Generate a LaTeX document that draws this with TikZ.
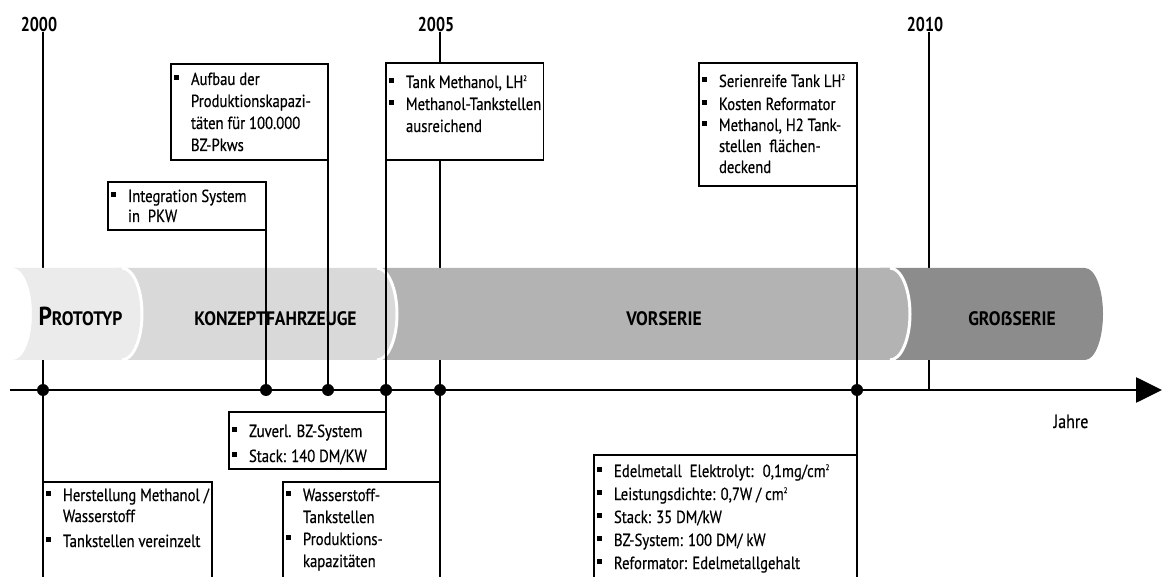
\documentclass[tikz,border=0pt]{standalone}
\usepackage{fontspec}
\setmainfont{PT Sans}[FakeStretch=0.84, FakeBold=0.5]
\newfontfamily\yearfont{PT Sans}[FakeStretch=0.8]
\newfontfamily\bandfont{PT Sans}[FakeStretch=0.9]
\usetikzlibrary{arrows.meta}

\pgfdeclarelayer{yearlayer}
\pgfdeclarelayer{bandlayer}
\pgfsetlayers{yearlayer,bandlayer,main}

\definecolor{protogray}{HTML}{EBEBEB}
\definecolor{konzgray}{HTML}{D9D9D9}
\definecolor{vorgray}{HTML}{B3B3B3}
\definecolor{grossgray}{HTML}{8C8C8C}

% bullet square and indentation of continuation lines
\newcommand\bul{\makebox[17.5pt][l]{\raisebox{5pt}{\rule{5pt}{5pt}}}}
\newcommand\ind{\hspace*{17.5pt}}
\newcommand\lstrut{\rule[-4pt]{0pt}{17pt}}
\newcommand\bl[1]{\hbox{\lstrut\bul#1}}
\newcommand\cl[1]{\hbox{\lstrut\ind#1}}
\newcommand\sqr{\raisebox{7pt}{\fontsize{8}{8}\selectfont 2}}
% #1 width, #2 height, #3 first baseline, #4 line skip, #5 lines
\newcommand\boxtxt[5]{\parbox[t][#2pt][t]{#1pt}{\fontsize{17.5}{#4pt}\selectfont
  \hrule height 0pt width #1pt\relax
  \vspace*{\dimexpr#3pt-13pt\relax}#5}}

\tikzset{
  infobox/.style={draw, line width=1.3pt, fill=white, inner xsep=2.5pt, inner ysep=0pt, outer sep=0pt, anchor=north west},
  yearlbl/.style={font=\yearfont\fontsize{20}{20}\selectfont\bfseries, anchor=base, inner sep=0pt},
  bandlbl/.style={font=\bandfont\fontsize{19.5}{20}\selectfont\bfseries, anchor=base, inner sep=0pt},
  yearline/.style={line width=2pt},
  msline/.style={line width=1.3pt},
  axisline/.style={line width=2.7pt, -{Triangle[length=26pt,width=25pt]}},
  dot/.style={circle, fill=black, minimum size=12pt, inner sep=0pt},
  bandedge/.style={white, line width=3pt},
}

\begin{document}
\begin{tikzpicture}[x=1pt,y=-1pt]
\useasboundingbox (0,0) rectangle (1165,577);
\clip (0,0) rectangle (1165,577);

% year labels
\node[yearlbl] (y2000) at (39,32) {2000};
\node[yearlbl] (y2005) at (436,32) {2005};
\node[yearlbl] (y2010) at (925,32) {2010};

% milestone dots on the time axis
\node[dot] (d2000) at (43,390) {};
\node[dot] (d266) at (266,390) {};
\node[dot] (d328) at (328,390) {};
\node[dot] (d387) at (386,390) {};
\node[dot] (d2005) at (440,390) {};
\node[dot] (d857) at (857,390) {};
\coordinate (t2010) at (929,390);
\coordinate (axL) at (10,390);
\coordinate (axR) at (1162,390);

% boxes above the axis
\node[infobox] (bA) at (171,64) {\boxtxt{152}{96}{21}{22}{%
  \bl{Aufbau der}
  \cl{Produktionskapazi-}
  \cl{täten für 100.000}
  \cl{BZ-Pkws}}};
\node[infobox] (bB) at (108,182) {\boxtxt{153}{48}{20}{20}{%
  \bl{Integration System}
  \cl{in~ PKW}}};
\node[infobox] (bC) at (386,63) {\boxtxt{152}{97}{25}{22}{%
  \bl{Tank Methanol, LH\sqr}
  \bl{Methanol-Tankstellen}
  \cl{ausreichend}}};
\node[infobox] (bD) at (699,63) {\boxtxt{153}{123}{24}{21}{%
  \bl{Serienreife Tank LH\sqr}
  \vspace{2pt}
  \bl{Kosten Reformator}
  \bl{Methanol, H2 Tank-}
  \cl{stellen~ flächen-}
  \cl{deckend}}};

% boxes below the axis
\node[infobox] (bE) at (229,412) {\boxtxt{152}{57}{25}{25}{%
  \bl{Zuverl. BZ-System}
  \bl{Stack: 140 DM/KW}}};
\node[infobox] (bF) at (43,482) {\boxtxt{164}{150}{19}{21}{%
  \bl{Herstellung Methanol /}
  \cl{Wasserstoff}
  \vspace{4pt}
  \bl{Tankstellen vereinzelt}}};
\node[infobox] (bG) at (283,482) {\boxtxt{152}{150}{19}{22}{%
  \bl{Wasserstoff-}
  \cl{Tankstellen}
  \bl{Produktions-}
  \cl{kapazitäten}}};
\node[infobox] (bH) at (594,455) {\boxtxt{258}{150}{22}{23}{%
  \bl{Edelmetall~ Elektrolyt:~ 0,1mg/cm\sqr}
  \bl{Leistungsdichte: 0,7W / cm\sqr}
  \bl{Stack: 35 DM/kW}
  \bl{BZ-System: 100 DM/ kW}
  \bl{Reformator: Edelmetallgehalt}}};

% year lines behind the phase bands
\begin{pgfonlayer}{yearlayer}
  \draw[yearline] (d2000 |- y2000.south) -- (bF.north west);
  \draw[yearline] (d2005 |- y2005.south) -- (bG.north east);
  \draw[yearline] (t2010 |- y2010.south) -- (t2010);
\end{pgfonlayer}

% phase bands and the time axis
\begin{pgfonlayer}{bandlayer}
  \fill[grossgray] (880,268) -- (1085,268) .. controls (1094.9,268) and (1103,288.6) .. (1103,314)
     .. controls (1103,339.4) and (1094.9,360) .. (1085,360) -- (880,360) -- cycle;
  \fill[vorgray] (380,268) -- (890,268) .. controls (901,268) and (910,288.6) .. (910,314)
     .. controls (910,339.4) and (901,360) .. (890,360) -- (380,360) -- cycle;
  \draw[bandedge] (890,268) .. controls (901,268) and (910,288.6) .. (910,314)
     .. controls (910,339.4) and (901,360) .. (890,360);
  \fill[konzgray] (115,268) -- (377,268) .. controls (388,268) and (397,288.6) .. (397,314)
     .. controls (397,339.4) and (388,360) .. (377,360) -- (115,360) -- cycle;
  \draw[bandedge] (377,268) .. controls (388,268) and (397,288.6) .. (397,314)
     .. controls (397,339.4) and (388,360) .. (377,360);
  \fill[protogray] (13,268) -- (122,268) .. controls (133,268) and (142,288.6) .. (142,314)
     .. controls (142,339.4) and (133,360) .. (122,360) -- (13,360)
     .. controls (23.5,360) and (32,339.4) .. (32,314) .. controls (32,288.6) and (23.5,268) .. (13,268) -- cycle;
  \draw[bandedge] (122,268) .. controls (133,268) and (142,288.6) .. (142,314)
     .. controls (142,339.4) and (133,360) .. (122,360);

  \node[bandlbl] (lproto) at (80.5,326) {{\fontsize{26}{26}\selectfont P}ROTOTYP};
  \node[bandlbl] (lkonz) at (275.5,326) {KONZEPTFAHRZEUGE};
  \node[bandlbl] (lvor) at (664,326) {VORSERIE};
  \node[bandlbl] (lgross) at (1012,326) {GROẞSERIE};

  \draw[axisline] (axL) -- (axR);
\end{pgfonlayer}

% milestone connectors
\draw[msline] (bB.south east) -- (d266);
\draw[msline] (bA.south east) -- (d328);
\draw[msline] (bC.south west) -- (bE.north east);
\draw[msline] (bD.south east) -- (bH.north east);

\node[font=\fontsize{19}{19}\selectfont, anchor=base, inner sep=0pt] (jahre) at (1071,428) {Jahre};
\end{tikzpicture}
\end{document}
